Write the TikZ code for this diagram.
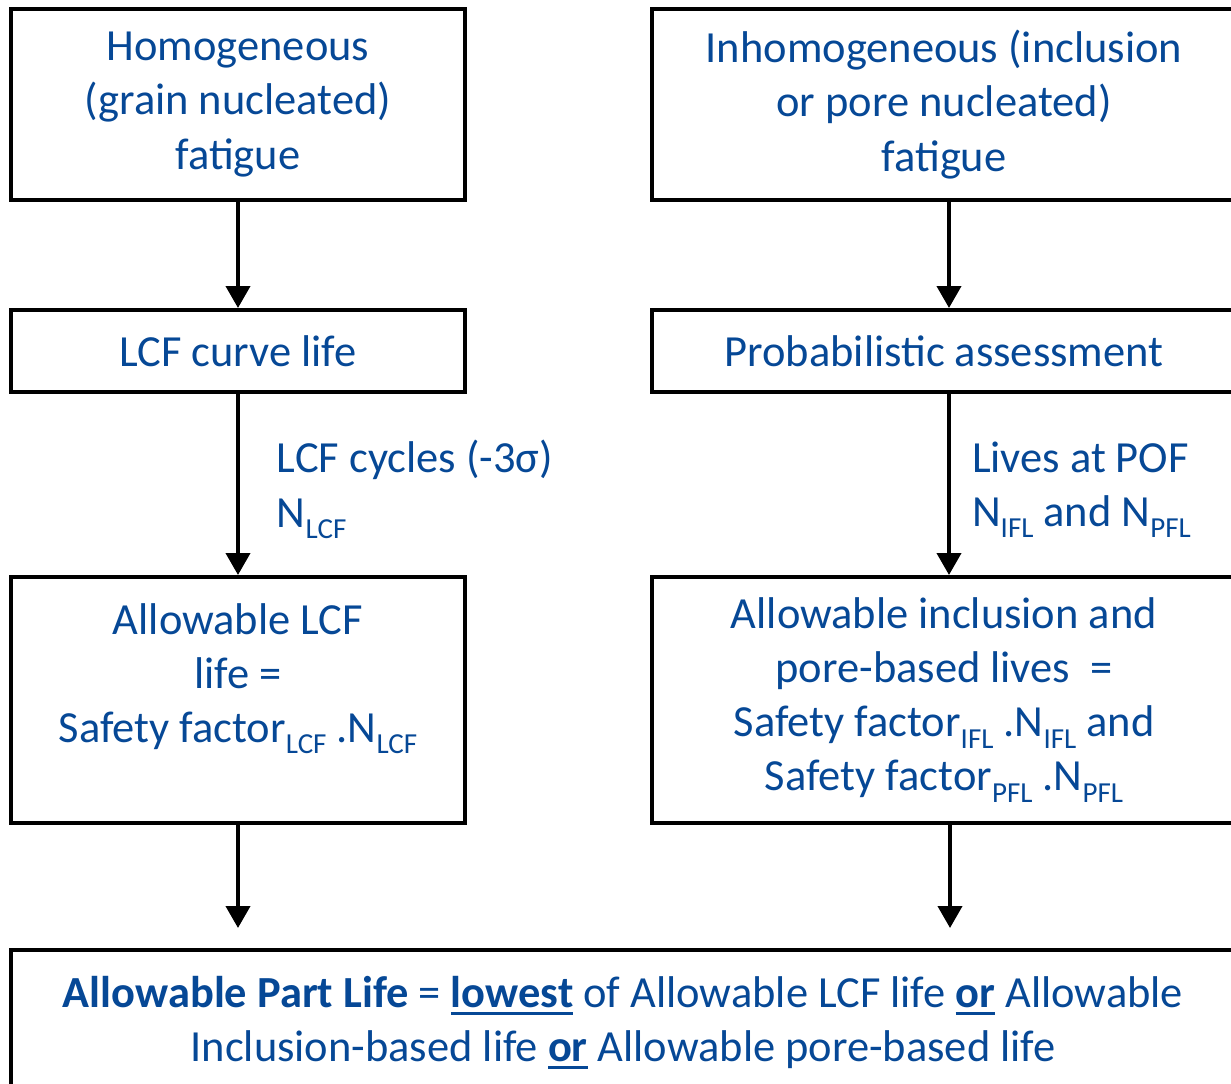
\documentclass[tikz,border=0pt]{standalone}
\usepackage{fontspec}
\setmainfont{Carlito}
\usepackage{tikz}
\usetikzlibrary{positioning}
\usetikzlibrary{arrows.meta}

\definecolor{txtblue}{RGB}{6,72,150}
\newcommand{\lo}[1]{\raisebox{-6.5pt}{\fontsize{16.5}{16.5}\selectfont #1}}
\newcommand{\undl}[1]{\sbox0{#1}\rlap{\rule[-4.5pt]{\wd0}{1.8pt}}\usebox0}

\begin{document}
\begin{tikzpicture}[line width=2.27pt, font=\fontsize{25.3}{30.8}\selectfont,
	box/.style={draw, text=txtblue, align=center, inner sep=0pt},
	lbl/.style={text=txtblue, align=left, inner sep=0pt, anchor=west},
	arr/.style={-{Triangle[length=0.44cm,width=0.48cm]}}]
	\useasboundingbox (0,0) rectangle (24.62,-21.68);
	% top row
	\node[box, minimum width=9.08cm, minimum height=3.82cm] (homo) at (4.76,-2.09) {Homogeneous\\(grain nucleated)\\fatigue};
	\node[box, minimum width=11.68cm, minimum height=3.82cm] (inhomo) at (18.88,-2.09) {Inhomogeneous (inclusion\\or pore nucleated)\\fatigue};
	% second row
	\node[box, minimum width=9.08cm, minimum height=1.64cm] (lcf) at (4.76,-7.02) {LCF curve life};
	\node[box, minimum width=11.68cm, minimum height=1.64cm] (prob) at (18.88,-7.02) {Probabilistic assessment};
	% allowable lives
	\node[box, minimum width=9.08cm, minimum height=4.92cm] (allowL) at (4.76,-14.0) {Allowable LCF\\life =\\Safety factor\lo{LCF} .N\lo{LCF}\\~};
	\node[box, minimum width=11.68cm, minimum height=4.92cm] (allowIP) at (18.88,-14.0) {Allowable inclusion and\\pore-based lives \ =\\Safety factor\lo{IFL} .N\lo{IFL} and\\Safety factor\lo{PFL} .N\lo{PFL}};
	% result
	\node[box, minimum width=24.48cm, minimum height=2.9cm] (part) at (12.46,-20.45) {{\bfseries Allowable Part Life} = \undl{\bfseries lowest} of Allowable LCF life \undl{\bfseries or} Allowable\\Inclusion-based life \undl{\bfseries or} Allowable pore-based life};
	\coordinate (tipL) at ([yshift=0.4cm]part.north -| allowL.south);
	\coordinate (tipR) at ([yshift=0.4cm,xshift=0.12cm]part.north -| allowIP.south);

	\draw[arr] (homo) -- (lcf);
	\draw[arr] ([xshift=0.1cm]inhomo.south) -- ([xshift=0.1cm]prob.north);
	\draw[arr] (lcf) -- (allowL) node[lbl, midway, xshift=0.74cm, yshift=-0.1cm] (cyclesL) {LCF cycles (-3σ)\\N\lo{LCF}};
	\draw[arr] ([xshift=0.1cm]prob.south) -- ([xshift=0.1cm]allowIP.north) node[lbl, midway, xshift=0.42cm, yshift=-0.1cm] (livesR) {Lives at POF\\N\lo{IFL} and N\lo{PFL}};
	\draw[arr] (allowL) -- (tipL);
	\draw[arr] ([xshift=0.12cm]allowIP.south) -- (tipR);
\end{tikzpicture}
\end{document}
